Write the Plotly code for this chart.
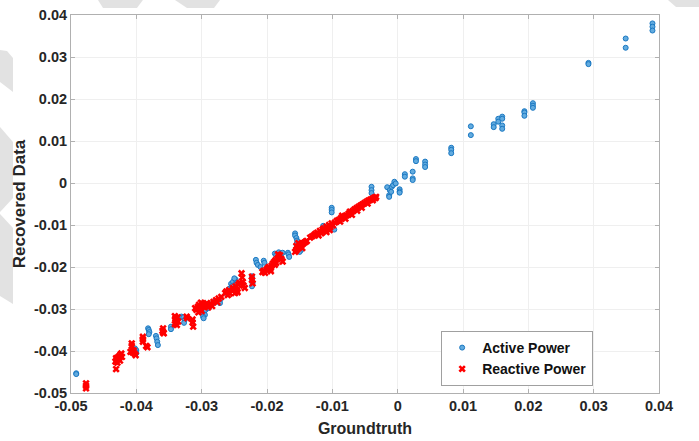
import plotly.graph_objects as go

# ---------------- data ----------------
active_x = [
    -0.0492, -0.0492,
    -0.0402, -0.0400, -0.0401, -0.0400,
    -0.0382, -0.0381, -0.0380, -0.0381,
    -0.0370, -0.0369, -0.0368, -0.0367,
    -0.0347, -0.0347,
    -0.0331, -0.0328, -0.0326, -0.0327,
    -0.0297, -0.0296, -0.0295, -0.0294, -0.0290, -0.0287, -0.0285, -0.0283, -0.0281, -0.0298, -0.0297,
    -0.0272, -0.0272, -0.0262, -0.0260, -0.0258,
    -0.0255, -0.0252, -0.0250, -0.0248, -0.0246, -0.0254, -0.0250,
    -0.0223, -0.0223, -0.0222, -0.0223,
    -0.0217, -0.0216, -0.0214, -0.0210,
    -0.0205, -0.0204,
    -0.0188, -0.0186, -0.0182, -0.0180, -0.0178, -0.0176,
    -0.0168, -0.0167, -0.0166,
    -0.0157, -0.0157, -0.0155, -0.0154, -0.0152, -0.0150, -0.0152, -0.0149, -0.0148, -0.0150, -0.0155, -0.0147,
    -0.0114, -0.0112, -0.0114, -0.0109,
    -0.0101, -0.0101, -0.0101,
    -0.0099, -0.0097,
    -0.0040, -0.0040, -0.0040,
    -0.0016, -0.0012, -0.0013, -0.0013, -0.0009, -0.0007, -0.0005, -0.0010, -0.0003,
    0.0003, 0.0003, 0.0003,
    0.0011, 0.0011,
    0.0023, 0.0023, 0.0023,
    0.0028, 0.0028,
    0.0042, 0.0042, 0.0042,
    0.0082, 0.0082, 0.0082,
    0.0112, 0.0112,
    0.0147, 0.0147,
    0.0154, 0.0154,
    0.0160, 0.0160, 0.0160, 0.0160,
    0.0194, 0.0194, 0.0194,
    0.0207, 0.0207, 0.0207,
    0.0292, 0.0292,
    0.0349, 0.0349,
    0.0390, 0.0390, 0.0390,
]
active_y = [
    -0.0453, -0.0455,
    -0.0394, -0.0398, -0.0402, -0.0405,
    -0.0346, -0.0350, -0.0355, -0.0360,
    -0.0364, -0.0370, -0.0378, -0.0386,
    -0.0342, -0.0348,
    -0.0318, -0.0320, -0.0326, -0.0333,
    -0.0310, -0.0306, -0.0314, -0.0302, -0.0298, -0.0293, -0.0290, -0.0287, -0.0283, -0.0318, -0.0322,
    -0.0279, -0.0286, -0.0262, -0.0257, -0.0252,
    -0.0240, -0.0235, -0.0243, -0.0230, -0.0238, -0.0246, -0.0227,
    -0.0222, -0.0230, -0.0238, -0.0246,
    -0.0183, -0.0190, -0.0195, -0.0200,
    -0.0185, -0.0190,
    -0.0168, -0.0172, -0.0165, -0.0172, -0.0177, -0.0166,
    -0.0166, -0.0170, -0.0176,
    -0.0120, -0.0125, -0.0131, -0.0137, -0.0141, -0.0146, -0.0152, -0.0156, -0.0160, -0.0164, -0.0146, -0.0150,
    -0.0102, -0.0106, -0.0110, -0.0104,
    -0.0059, -0.0064, -0.0070,
    -0.0107, -0.0111,
    -0.0009, -0.0017, -0.0024,
    -0.0010, -0.0017, -0.0029, -0.0033, -0.0009, -0.0005, 0.0003, -0.0021, -0.0001,
    -0.0015, -0.0020, -0.0023,
    0.0021, 0.0015,
    0.0027, 0.0011, 0.0007,
    0.0057, 0.0052,
    0.0051, 0.0044, 0.0038,
    0.0084, 0.0079, 0.0071,
    0.0135, 0.0114,
    0.0140, 0.0133,
    0.0153, 0.0146,
    0.0158, 0.0153, 0.0137, 0.0129,
    0.0171, 0.0168, 0.0160,
    0.0190, 0.0184, 0.0179,
    0.0286, 0.0283,
    0.0344, 0.0322,
    0.0380, 0.0372, 0.0363,
]

reactive_x = [
    -0.0477, -0.0477, -0.0477,
    -0.0431,
    -0.0432, -0.0430, -0.0428, -0.0426, -0.0424, -0.0423, -0.0429, -0.0425, -0.0427, -0.0431, -0.0422,
    -0.0407, -0.0407,
    -0.0409, -0.0406, -0.0403, -0.0401, -0.0404,
    -0.0390, -0.0390, -0.0390,
    -0.0385, -0.0383,
    -0.0360, -0.0359, -0.0358, -0.0359,
    -0.0341, -0.0340, -0.0339, -0.0340, -0.0341, -0.0337, -0.0336, -0.0338,
    -0.0323, -0.0322,
    -0.0314, -0.0313, -0.0314,
    -0.0310, -0.0308, -0.0306, -0.0304, -0.0302, -0.0300, -0.0299, -0.0297, -0.0294, -0.0292, -0.0290, -0.0288, -0.0286, -0.0284, -0.0301, -0.0305,
    -0.0282, -0.0278, -0.0274, -0.0270, -0.0276,
    -0.0264, -0.0262, -0.0260, -0.0258, -0.0257,
    -0.0252, -0.0250, -0.0248, -0.0246, -0.0244, -0.0242, -0.0245, -0.0249,
    -0.0239, -0.0238, -0.0237, -0.0236, -0.0234,
    -0.0223, -0.0223, -0.0222,
    -0.0207, -0.0205, -0.0203, -0.0201, -0.0199, -0.0197, -0.0195, -0.0193, -0.0191, -0.0189,
    -0.0187, -0.0186, -0.0184, -0.0182, -0.0180, -0.0178, -0.0176, -0.0188, -0.0194, -0.0183,
    -0.0157, -0.0155, -0.0153, -0.0151, -0.0149, -0.0147, -0.0145, -0.0143, -0.0141, -0.0139, -0.0152, -0.0146, -0.0155,
    -0.0134, -0.0131, -0.0128, -0.0126, -0.0123, -0.0121, -0.0119, -0.0117, -0.0115, -0.0113,
    -0.0111, -0.0109, -0.0107, -0.0105, -0.0103, -0.0101, -0.0099, -0.0109, -0.0104,
    -0.0096, -0.0093, -0.0090, -0.0087, -0.0084, -0.0081, -0.0078, -0.0075, -0.0072, -0.0069, -0.0066,
    -0.0063, -0.0060, -0.0057, -0.0054, -0.0051, -0.0048, -0.0045, -0.0042, -0.0039, -0.0036, -0.0033,
    -0.0088, -0.0080, -0.0070, -0.0062, -0.0055, -0.0046, -0.0038, -0.0034, -0.0085, -0.0073,
]
reactive_y = [
    -0.0477, -0.0483, -0.0489,
    -0.0443,
    -0.0425, -0.0420, -0.0415, -0.0412, -0.0408, -0.0406, -0.0428, -0.0423, -0.0418, -0.0417, -0.0414,
    -0.0382, -0.0388,
    -0.0402, -0.0403, -0.0406, -0.0410, -0.0399,
    -0.0366, -0.0372, -0.0378,
    -0.0388, -0.0391,
    -0.0352, -0.0356, -0.0358, -0.0346,
    -0.0317, -0.0322, -0.0327, -0.0332, -0.0336, -0.0320, -0.0330, -0.0338,
    -0.0318, -0.0322,
    -0.0325, -0.0342, -0.0332,
    -0.0298, -0.0302, -0.0295, -0.0290, -0.0300, -0.0305, -0.0288, -0.0294, -0.0292, -0.0286, -0.0296, -0.0290, -0.0287, -0.0293, -0.0285, -0.0308,
    -0.0283, -0.0279, -0.0275, -0.0271, -0.0284,
    -0.0262, -0.0258, -0.0267, -0.0255, -0.0263,
    -0.0250, -0.0254, -0.0246, -0.0255, -0.0242, -0.0238, -0.0260, -0.0262,
    -0.0215, -0.0225, -0.0236, -0.0244, -0.0250,
    -0.0223, -0.0231, -0.0239,
    -0.0212, -0.0209, -0.0214, -0.0207, -0.0203, -0.0200, -0.0205, -0.0197, -0.0192, -0.0188,
    -0.0184, -0.0190, -0.0180, -0.0176, -0.0172, -0.0181, -0.0187, -0.0195, -0.0210, -0.0170,
    -0.0164, -0.0160, -0.0156, -0.0152, -0.0149, -0.0146, -0.0144, -0.0142, -0.0140, -0.0138, -0.0143, -0.0155, -0.0150,
    -0.0130, -0.0127, -0.0124, -0.0121, -0.0118, -0.0125, -0.0114, -0.0120, -0.0111, -0.0108,
    -0.0113, -0.0104, -0.0109, -0.0100, -0.0105, -0.0096, -0.0101, -0.0117, -0.0112,
    -0.0094, -0.0090, -0.0088, -0.0084, -0.0082, -0.0079, -0.0077, -0.0073, -0.0070, -0.0067, -0.0063,
    -0.0060, -0.0057, -0.0054, -0.0051, -0.0048, -0.0045, -0.0042, -0.0040, -0.0038, -0.0035, -0.0033,
    -0.0092, -0.0085, -0.0076, -0.0066, -0.0059, -0.0049, -0.0041, -0.0036, -0.0078, -0.0068,
]

x_ticks = [-0.05, -0.04, -0.03, -0.02, -0.01, 0, 0.01, 0.02, 0.03, 0.04]
x_ticklabels = ["-0.05", "-0.04", "-0.03", "-0.02", "-0.01", "0", "0.01", "0.02", "0.03", "0.04"]
y_ticks = [-0.05, -0.04, -0.03, -0.02, -0.01, 0, 0.01, 0.02, 0.03, 0.04]
y_ticklabels = ["-0.05", "-0.04", "-0.03", "-0.02", "-0.01", "0", "0.01", "0.02", "0.03", "0.04"]

series_names = ["Active Power", "Reactive Power"]

# ---------------- figure ----------------
W, H = 699, 441
ML, MR, MT, MB = 71, 40, 15, 48
PW, PH = W - ML - MR, H - MT - MB

FONT = "Liberation Sans, Arial, sans-serif"

fig = go.Figure()
fig.add_trace(go.Scatter(
    x=active_x, y=active_y, mode="markers", name=series_names[0],
    marker=dict(symbol="circle", size=5, color="#62abdf",
                line=dict(color="#1a78c2", width=1)),
))
fig.add_trace(go.Scatter(
    x=reactive_x, y=reactive_y, mode="markers", name=series_names[1],
    marker=dict(symbol="x", size=6.5, color="#ff0000", line=dict(width=0)),
))


def px_to_paper(pts):
    return [((x - ML) / PW, (MT + PH - y) / PH) for x, y in pts]


def path_from(pts):
    p = px_to_paper(pts)
    return "M " + " L ".join(f"{a:.4f},{b:.4f}" for a, b in p) + " Z"


watermark = [
    [(98, 0), (143, 0), (137, 8), (103, 8)],
    [(175, 0), (220, 0), (214, 8), (187, 8)],
    [(668, 0), (699, 0), (699, 7), (676, 7)],
    [(0, 50), (7, 51), (13, 58), (13, 92), (0, 82)],
    [(0, 127), (13, 142), (13, 198), (0, 212)],
    [(0, 214), (13, 228), (13, 304), (0, 296)],
]
shapes = [dict(type="path", xref="paper", yref="paper", path=path_from(w),
               fillcolor="#e2e2e2", line=dict(width=0), layer="below")
          for w in watermark]

axis_common = dict(
    showgrid=True, gridcolor="#efefef", gridwidth=1,
    showline=True, linecolor="#b0b0b0", linewidth=1, mirror="ticks",
    ticks="inside", ticklen=4, tickcolor="#b0b0b0",
    zeroline=False, automargin=False,
    tickfont=dict(family=FONT, size=14.5, color="#262626", weight="bold"),
)

fig.update_layout(
    width=W, height=H,
    margin=dict(l=ML, r=MR, t=MT, b=MB),
    paper_bgcolor="white", plot_bgcolor="white",
    shapes=shapes,
    xaxis=dict(range=[-0.05, 0.04], tickvals=x_ticks, ticktext=x_ticklabels,
               title=dict(text="Groundtruth", standoff=9,
                          font=dict(family=FONT, size=16, color="#262626", weight="bold")),
               **axis_common),
    yaxis=dict(range=[-0.05, 0.04], tickvals=y_ticks, ticktext=y_ticklabels,
               title=dict(text="Recovered Data", standoff=4,
                          font=dict(family=FONT, size=17, color="#262626", weight="bold")),
               **axis_common),
    legend=dict(x=0.888, y=0.0185, xanchor="right", yanchor="bottom",
                bgcolor="white", bordercolor="#a0a0a0", borderwidth=1,
                itemwidth=30, tracegroupgap=0,
                font=dict(family=FONT, size=14, color="#111111", weight="bold")),
    showlegend=True,
)

fig.write_html("out.html")
